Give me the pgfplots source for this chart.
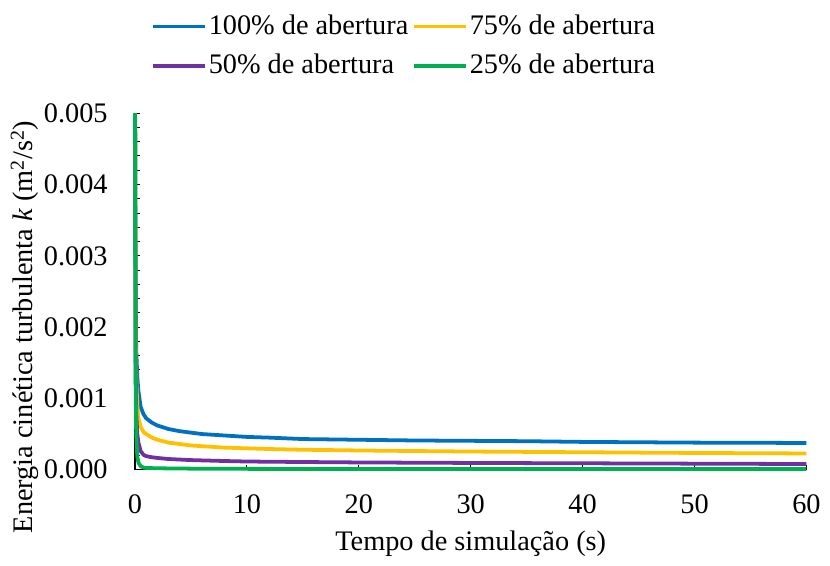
\documentclass[border=0pt]{standalone}
\usepackage{pgfplots}
\pgfplotsset{compat=1.18}
\usepackage{fontspec}
\setmainfont{Liberation Serif}
\definecolor{cblue}{HTML}{0070C0}
\definecolor{cyellow}{HTML}{FFC000}
\definecolor{cpurple}{HTML}{7030A0}
\definecolor{cgreen}{HTML}{00B050}
\pgfplotstableread{
t k
0 0.005
0.05 0.0025
0.1 0.0017
0.2 0.0013
0.3 0.0011
0.5 0.00088
0.75 0.00078
1 0.00072
1.5 0.00066
2 0.00062
3 0.00057
4 0.00054
5 0.00052
6 0.0005
8 0.00048
10 0.00046
12 0.00045
15 0.00043
20 0.00042
25 0.00041
30 0.000405
35 0.0004
40 0.00039
45 0.000385
50 0.00038
55 0.000378
60 0.000375
}\tblue
\pgfplotstableread{
t k
0 0.005
0.05 0.002
0.1 0.0013
0.2 0.0009
0.3 0.00072
0.5 0.0006
0.75 0.00053
1 0.0005
1.5 0.00045
2 0.00042
3 0.00038
4 0.00036
5 0.00034
6 0.00033
8 0.00031
10 0.0003
12 0.00029
15 0.00028
20 0.00027
25 0.000262
30 0.000255
40 0.000245
50 0.000235
60 0.000228
}\tyellow
\pgfplotstableread{
t k
0 0.005
0.05 0.0015
0.1 0.0008
0.2 0.0005
0.3 0.00038
0.5 0.00026
0.75 0.00021
1 0.00019
1.5 0.000175
2 0.000165
3 0.00015
5 0.000135
8 0.000122
10 0.000115
15 0.000108
20 0.000102
30 0.000095
40 0.00009
50 0.000085
60 0.00008
}\tpurple
\pgfplotstableread{
t k
0 0.005
0.05 0.0012
0.1 0.0005
0.2 0.00018
0.3 0.0001
0.5 0.00005
0.75 0.00003
1 0.000025
2 0.00002
5 0.000015
10 0.000012
20 0.00001
40 0.00001
60 0.00001
}\tgreen
\begin{document}
\fontsize{28.5}{34}\selectfont
\begin{tikzpicture}
\begin{axis}[
  scale only axis,
  width=676pt, height=359pt,
  xmin=0, xmax=60, ymin=0, ymax=0.005,
  clip=false,
  axis lines*=left,
  axis line style={line width=1.2pt, black},
  xtick={0,10,20,30,40,50,60},
  ytick={0,0.001,0.002,0.003,0.004,0.005},
  minor y tick num=4,
  tick align=inside,
  major tick length=5pt, minor tick length=5pt,
  tick style={line width=1pt, black},
  scaled y ticks=false,
  /pgf/number format/assume math mode=true,
  yticklabel={\pgfmathprintnumber[fixed, fixed zerofill, precision=3]{\tick}},
  xticklabel={\pgfmathprintnumber{\tick}},
  ticklabel style={font=\fontsize{28.5}{34}\selectfont},
  yticklabel style={xshift=-18pt},
  xticklabel style={yshift=-15pt},
  xlabel style={font=\fontsize{28.5}{34}\selectfont, yshift=2pt},
  every axis y label/.style={at={(rel axis cs:-0.164,0.40)}, rotate=90, anchor=center,
     font=\fontsize{28.5}{34}\selectfont},
  xlabel={Tempo de simulação (s)},
  ylabel={Energia cinética turbulenta \textit{k} (m\textsuperscript{2}/s\textsuperscript{2})},
  legend columns=2,
  legend cell align=left,
  legend style={draw=none, fill=none, font=\fontsize{28.5}{34}\selectfont,
    at={(rel axis cs:0.401,1.283)}, anchor=north,
    /tikz/every even column/.append style={column sep=2pt},
    row sep=12pt, inner sep=0pt},
  legend image code/.code={\draw[#1, line width=3.6pt] (0pt,0pt) -- (46pt,0pt); \path (0pt,0pt) -- (52pt,0pt);},
]
\path (rel axis cs:-0.2012,-0.2507) rectangle (rel axis cs:1.0266,1.3175);
\addplot[cblue, line width=3.8pt] table[x=t,y=k]{\tblue};
\addlegendentry{100\% de abertura}
\addplot[cyellow, line width=3.8pt] table[x=t,y=k]{\tyellow};
\addlegendentry{75\% de abertura}
\addplot[cpurple, line width=3.8pt] table[x=t,y=k]{\tpurple};
\addlegendentry{50\% de abertura}
\addplot[cgreen, line width=3.8pt] table[x=t,y=k]{\tgreen};
\addlegendentry{25\% de abertura}
\end{axis}
\end{tikzpicture}
\end{document}
